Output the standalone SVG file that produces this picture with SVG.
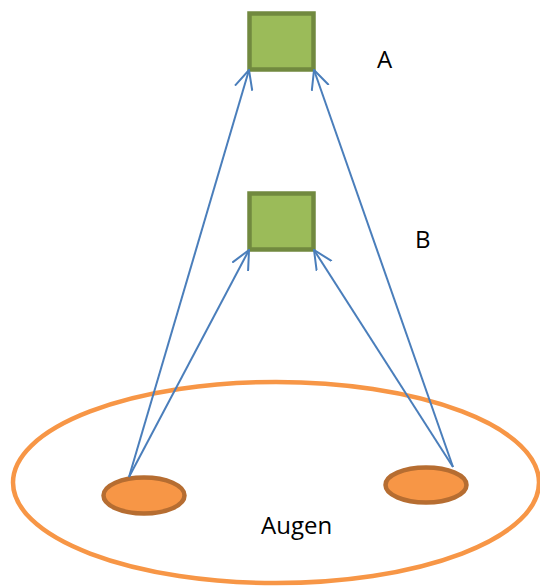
<svg xmlns="http://www.w3.org/2000/svg" width="540" height="586" viewBox="0 0 540 586">
<style>
.sq{fill:#9BBB59;stroke:#71893F;stroke-width:4.5}
.eye{fill:#F79646;stroke:#B66D31;stroke-width:4.5}
.big{fill:none;stroke:#F79646;stroke-width:4.5}
.con{stroke:#4A7EBB;stroke-width:2;fill:none;marker-end:url(#arr)}
.lbl{font-family:"Open Sans","Liberation Sans",sans-serif;font-size:24px;fill:#000}
</style>
<defs>
<marker id="arr" viewBox="0 0 20 20" refX="19" refY="10" markerWidth="20" markerHeight="20" markerUnits="userSpaceOnUse" orient="auto">
<path d="M0,1 L19,10 L0,19" fill="none" stroke="#4A7EBB" stroke-width="2"/>
</marker>
</defs>
<rect width="540" height="586" fill="#fff"/>
<g id="ring">
<ellipse class="big" cx="276" cy="482.5" rx="263" ry="100.5"/>
</g>
<g id="eye-left">
<ellipse class="eye" cx="144" cy="495.5" rx="40.5" ry="18"/>
</g>
<g id="eye-right">
<ellipse class="eye" cx="426" cy="485" rx="40.5" ry="17.5"/>
</g>
<g id="box-A">
<rect class="sq" x="249.5" y="13.5" width="64" height="56"/>
</g>
<g id="box-B">
<rect class="sq" x="249.5" y="193.5" width="64" height="56"/>
</g>
<g id="connectors">
<line class="con" x1="129" y1="477" x2="249" y2="70"/>
<line class="con" x1="129" y1="477" x2="249" y2="250"/>
<line class="con" x1="453" y1="467" x2="314" y2="70"/>
<line class="con" x1="453" y1="467" x2="314" y2="250"/>
</g>
<g id="labels">
<text class="lbl" x="377" y="68">A</text>
<text class="lbl" x="415" y="248">B</text>
<text class="lbl" x="261" y="534">Augen</text>
</g>
</svg>
